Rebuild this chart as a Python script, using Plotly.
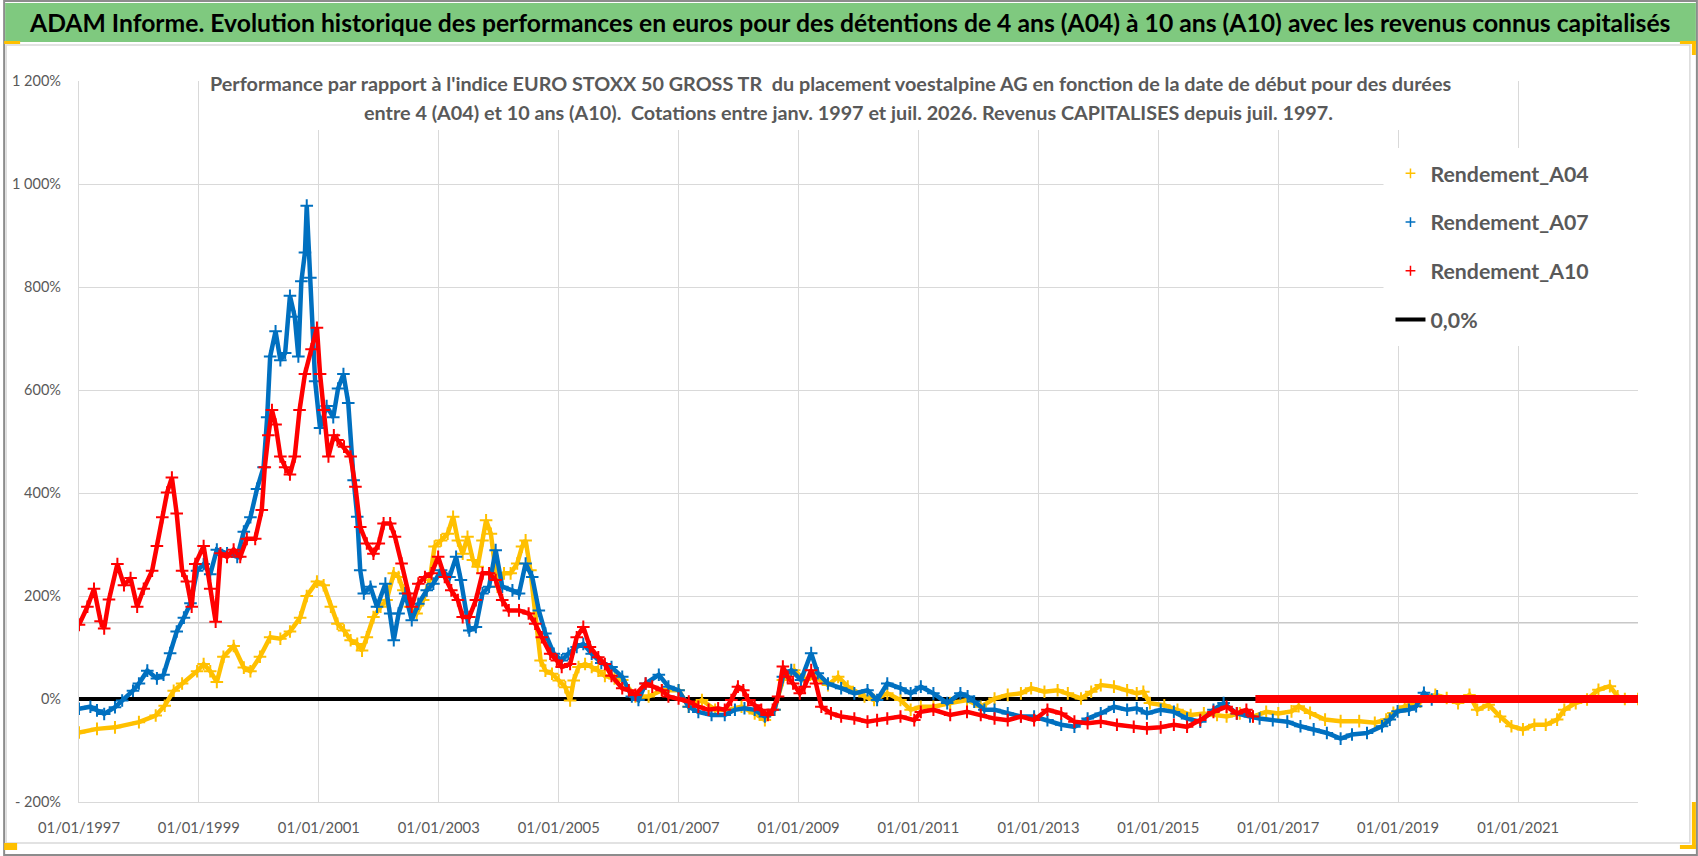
import plotly.graph_objects as go
import pandas as pd

# ---------------- DATA (decimal years, % performance) ----------------
a04_t = [1997.00, 1997.30, 1997.60, 1998.00, 1998.28, 1998.43, 1998.58, 1998.72, 1998.97, 1999.08,
         1999.19, 1999.30, 1999.41, 1999.58, 1999.75, 1999.86, 2000.02, 2000.19, 2000.36, 2000.52,
         2000.69, 2000.80, 2000.97, 2001.08, 2001.20, 2001.31, 2001.42, 2001.53, 2001.64, 2001.72,
         2001.80, 2001.91, 2002.03, 2002.13, 2002.25, 2002.33, 2002.41, 2002.52, 2002.63, 2002.74,
         2002.85, 2002.93, 2003.04, 2003.15, 2003.24, 2003.32, 2003.40, 2003.48, 2003.57, 2003.65,
         2003.73, 2003.79, 2003.87, 2003.98, 2004.09, 2004.20, 2004.31, 2004.39, 2004.45, 2004.53,
         2004.61, 2004.70, 2004.78, 2004.89, 2005.00, 2005.11, 2005.19, 2005.25, 2005.33, 2005.44,
         2005.55, 2005.66, 2005.77, 2005.93, 2006.06, 2006.28, 2006.50, 2006.72, 2007.00, 2007.17,
         2007.39, 2007.61, 2007.83, 2008.05, 2008.27, 2008.44, 2008.60, 2008.74, 2008.93, 2009.10,
         2009.27, 2009.49, 2009.66, 2009.82, 2010.10, 2010.26, 2010.48, 2010.70, 2010.87, 2011.04,
         2011.25, 2011.53, 2011.81, 2012.04, 2012.27, 2012.49, 2012.71, 2012.88, 2013.10, 2013.32,
         2013.49, 2013.71, 2013.88, 2014.04, 2014.26, 2014.48, 2014.64, 2014.75, 2014.86, 2015.10,
         2015.32, 2015.54, 2015.76, 2015.98, 2016.14, 2016.36, 2016.58, 2016.80, 2017.00, 2017.22,
         2017.34, 2017.53, 2017.78, 2018.04, 2018.35, 2018.61, 2018.80, 2018.92, 2019.11, 2019.37,
         2019.62, 2019.81, 2020.00, 2020.19, 2020.32, 2020.51, 2020.70, 2020.89, 2021.08, 2021.27,
         2021.46, 2021.65, 2021.77, 2021.96, 2022.15, 2022.34, 2022.53, 2022.66, 2022.78, 2023.00]
a04_v = [-65, -58, -55, -45, -32, -13, 16, 30, 54, 68,
         54, 33, 82, 103, 61, 54, 82, 120, 117, 131,
         158, 200, 228, 221, 179, 146, 133, 114, 107, 94,
         120, 159, 179, 192, 244, 237, 211, 179, 166, 192,
         231, 296, 308, 321, 354, 308, 282, 315, 270, 257,
         308, 347, 321, 218, 244, 244, 263, 296, 308, 250,
         166, 75, 55, 49, 36, 23, -3, 36, 62, 68,
         62, 55, 45, 40, 37, 5, 5, 17, 17, -15,
         -2, -21, -21, -15, -28, -41, -21, 37, 56, 37,
         43, 27, 43, 24, 5, -2, 11, -2, -21, -15,
         -15, -8, -2, -15, 1, 8, 11, 21, 14, 17,
         11, 1, 14, 27, 24, 17, 11, 14, -8, -12,
         -21, -31, -28, -31, -34, -28, -34, -25, -28, -24,
         -14, -27, -40, -43, -43, -46, -40, -27, -14, -5,
         8, 2, -8, 8, -21, -11, -34, -53, -59, -50,
         -50, -40, -21, -8, -1, 18, 25, 5, 0, 0]

a07_t = [1997.00, 1997.19, 1997.30, 1997.42, 1997.60, 1997.72, 1997.90, 1998.00, 1998.14, 1998.30,
         1998.41, 1998.52, 1998.63, 1998.75, 1998.86, 1998.97, 1999.08, 1999.19, 1999.30, 1999.47,
         1999.64, 1999.75, 1999.86, 1999.97, 2000.08, 2000.14, 2000.19, 2000.28, 2000.36, 2000.44,
         2000.52, 2000.60, 2000.66, 2000.71, 2000.77, 2000.80, 2000.86, 2000.94, 2001.02, 2001.13,
         2001.24, 2001.32, 2001.41, 2001.49, 2001.58, 2001.64, 2001.69, 2001.75, 2001.86, 2001.97,
         2002.11, 2002.19, 2002.25, 2002.33, 2002.44, 2002.55, 2002.66, 2002.80, 2002.91, 2003.04,
         2003.18, 2003.29, 2003.37, 2003.51, 2003.62, 2003.73, 2003.84, 2003.95, 2004.06, 2004.23,
         2004.34, 2004.45, 2004.56, 2004.67, 2004.78, 2004.92, 2005.05, 2005.16, 2005.30, 2005.41,
         2005.55, 2005.71, 2005.88, 2006.06, 2006.22, 2006.33, 2006.45, 2006.67, 2006.83, 2007.00,
         2007.17, 2007.33, 2007.55, 2007.77, 2007.94, 2008.10, 2008.27, 2008.44, 2008.60, 2008.74,
         2008.88, 2009.04, 2009.21, 2009.32, 2009.49, 2009.71, 2009.93, 2010.15, 2010.31, 2010.48,
         2010.70, 2010.87, 2011.04, 2011.25, 2011.48, 2011.70, 2011.82, 2011.93, 2012.10, 2012.27,
         2012.49, 2012.71, 2012.93, 2013.15, 2013.38, 2013.60, 2013.82, 2014.04, 2014.26, 2014.48,
         2014.64, 2014.81, 2015.04, 2015.26, 2015.48, 2015.70, 2015.92, 2016.09, 2016.31, 2016.53,
         2016.69, 2016.91, 2017.15, 2017.37, 2017.59, 2017.81, 2018.04, 2018.23, 2018.48, 2018.73,
         2018.86, 2018.99, 2019.18, 2019.30, 2019.43, 2019.56, 2019.65]
a07_v = [-19, -15, -22, -29, -16, -3, 16, 30, 55, 40,
         47, 89, 131, 158, 186, 249, 262, 242, 290, 283,
         276, 325, 353, 408, 450, 547, 665, 714, 658, 672,
         783, 742, 665, 811, 867, 958, 818, 617, 526, 569,
         547, 603, 631, 575, 425, 354, 250, 205, 218, 179,
         224, 166, 114, 166, 205, 153, 185, 211, 224, 250,
         237, 276, 231, 133, 140, 205, 218, 289, 218, 211,
         205, 263, 237, 172, 127, 88, 75, 88, 101, 107,
         88, 70, 62, 43, 5, -2, 30, 47, 24, 17,
         -15, -25, -31, -31, -21, -18, -21, -34, -21, 43,
         56, 37, 89, 50, 30, 21, 11, 17, -2, 30,
         21, 11, 24, 11, -8, 11, 5, -5, -21, -21,
         -28, -34, -34, -41, -50, -54, -38, -28, -15, -21,
         -18, -28, -21, -25, -38, -44, -21, -8, -28, -34,
         -38, -41, -44, -53, -59, -66, -77, -69, -66, -53,
         -40, -24, -21, -14, 12, -1, 5]

a10_t = [1997.00, 1997.14, 1997.25, 1997.36, 1997.42, 1997.50, 1997.64, 1997.75, 1997.86, 1997.97,
         1998.08, 1998.22, 1998.30, 1998.39, 1998.47, 1998.55, 1998.63, 1998.72, 1998.80, 1998.88,
         1998.94, 1999.08, 1999.19, 1999.28, 1999.36, 1999.47, 1999.58, 1999.69, 1999.80, 1999.94,
         2000.05, 2000.10, 2000.16, 2000.22, 2000.28, 2000.36, 2000.44, 2000.52, 2000.60, 2000.68,
         2000.77, 2000.88, 2000.97, 2001.02, 2001.08, 2001.16, 2001.25, 2001.31, 2001.42, 2001.53,
         2001.61, 2001.69, 2001.80, 2001.91, 2002.00, 2002.08, 2002.19, 2002.27, 2002.38, 2002.49,
         2002.55, 2002.66, 2002.77, 2002.88, 2002.99, 2003.10, 2003.21, 2003.32, 2003.40, 2003.51,
         2003.62, 2003.73, 2003.84, 2003.95, 2004.06, 2004.17, 2004.34, 2004.50, 2004.61, 2004.72,
         2004.86, 2004.97, 2005.05, 2005.19, 2005.30, 2005.41, 2005.52, 2005.66, 2005.77, 2005.88,
         2006.06, 2006.17, 2006.28, 2006.45, 2006.56, 2006.72, 2006.83, 2007.00, 2007.17, 2007.33,
         2007.50, 2007.66, 2007.77, 2007.88, 2007.99, 2008.08, 2008.16, 2008.27, 2008.38, 2008.49,
         2008.57, 2008.66, 2008.74, 2008.82, 2008.91, 2009.02, 2009.10, 2009.21, 2009.29, 2009.38,
         2009.54, 2009.71, 2009.93, 2010.15, 2010.31, 2010.48, 2010.70, 2010.93, 2011.04, 2011.25,
         2011.53, 2011.81, 2012.04, 2012.27, 2012.49, 2012.71, 2012.93, 2013.15, 2013.38, 2013.60,
         2013.82, 2014.04, 2014.31, 2014.59, 2014.81, 2015.04, 2015.26, 2015.48, 2015.70, 2015.92,
         2016.14, 2016.31, 2016.47, 2016.58]
a10_v = [144, 179, 214, 151, 137, 193, 262, 221, 235, 179,
         214, 249, 297, 353, 401, 430, 360, 249, 228, 179,
         262, 297, 214, 150, 283, 276, 290, 276, 311, 311,
         367, 450, 512, 561, 533, 471, 450, 436, 471, 561,
         631, 679, 721, 631, 561, 471, 512, 503, 490, 471,
         412, 334, 302, 282, 302, 341, 341, 315, 263, 205,
         179, 224, 237, 244, 276, 237, 211, 192, 159, 159,
         192, 244, 244, 231, 192, 172, 172, 166, 146, 120,
         88, 75, 62, 68, 120, 140, 101, 81, 68, 45,
         21, 17, 8, 30, 24, 17, 5, 1, -5, -15,
         -21, -18, -21, -2, 24, 17, -2, -12, -21, -31,
         -21, 5, 63, 43, 30, 11, 24, 56, 30, -15,
         -28, -34, -38, -44, -41, -38, -34, -41, -25, -21,
         -31, -25, -31, -38, -41, -34, -41, -21, -28, -44,
         -47, -44, -50, -54, -57, -55, -50, -54, -41, -25,
         -15, -28, -21, -34]

# series with no more history: flat at 0 until the end of the axis
a07_flat_t = [2019.70, 2023.00]
a07_flat_v = [0, 0]
a10_flat_t = [2016.62, 2023.00]
a10_flat_v = [0, 0]

zero_t = [1997.00, 2023.00]
zero_v = [0, 0]
ref_level = 148  # extra horizontal reference line seen on the chart

y_tickvals = [-200, 0, 200, 400, 600, 800, 1000, 1200]
y_ticktext = ["- 200%", "0%", "200%", "400%", "600%", "800%", "1 000%", "1 200%"]
x_tickyears = [1997, 1999, 2001, 2003, 2005, 2007, 2009, 2011, 2013, 2015, 2017, 2019, 2021]

names = ["Rendement_A04", "Rendement_A07", "Rendement_A10", "0,0%"]
colors = ["#FFC000", "#0070C0", "#FF0000", "#000000"]

title_text = ("ADAM Informe. Evolution historique des performances en euros pour des détentions "
              "de 4 ans (A04) à 10 ans (A10) avec les revenus connus capitalisés")
sub1 = ("Performance par rapport à l'indice EURO STOXX 50 GROSS TR  du placement voestalpine AG "
        "en fonction de la date de début pour des durées")
sub2 = ("entre 4 (A04) et 10 ans (A10).  Cotations entre janv. 1997 et juil. 2026. "
        "Revenus CAPITALISES depuis juil. 1997.")


def to_date(y):
    yr = int(y)
    return pd.Timestamp(year=yr, month=1, day=1) + pd.Timedelta(days=(y - yr) * 365.25)


def dates(ts):
    return [to_date(t) for t in ts]


# ---------------- LAYOUT GEOMETRY ----------------
W, H = 1698, 856
ML, MR, MT, MB = 76, 60, 81, 54
PW, PH = W - ML - MR, H - MT - MB


def px_x(px):
    return (px - ML) / PW


def px_y(py):
    return 1 - (py - MT) / PH


FONT = "Lato, Open Sans, sans-serif"
GRAY = "#595959"
GRID = "#D9D9D9"

fig = go.Figure()

# zero line
fig.add_trace(go.Scatter(x=dates(zero_t), y=zero_v, mode="lines",
                         line=dict(color=colors[3], width=4), showlegend=False, hoverinfo="skip"))

series = [(a04_t, a04_v, None, None), (a07_t, a07_v, a07_flat_t, a07_flat_v),
          (a10_t, a10_v, a10_flat_t, a10_flat_v)]
for i, (t, v, ft, fv) in enumerate(series):
    fig.add_trace(go.Scatter(x=dates(t), y=v, mode="lines+markers",
                             line=dict(color=colors[i], width=4.5),
                             marker=dict(symbol="cross-thin", size=9,
                                         line=dict(color=colors[i], width=2)),
                             showlegend=False, name=names[i]))
    if ft is not None:
        fig.add_trace(go.Scatter(x=dates(ft), y=fv, mode="lines",
                                 line=dict(color=colors[i], width=8),
                                 showlegend=False, hoverinfo="skip"))

# legend-only entries
for i in range(3):
    fig.add_trace(go.Scatter(x=[None], y=[None], mode="markers", name=names[i],
                             marker=dict(symbol="cross-thin", size=7,
                                         line=dict(color=colors[i], width=1.5)),
                             legendgroup=names[i], legendrank=i + 1))
fig.add_trace(go.Scatter(x=[None], y=[None], mode="lines", name=names[3],
                         line=dict(color=colors[3], width=4),
                         legendgroup=names[3], legendrank=4))

shapes = []
# outer frame
shapes.append(dict(type="rect", xref="paper", yref="paper", x0=px_x(1), x1=px_x(W - 1),
                   y0=px_y(1), y1=px_y(H - 1), line=dict(color="#8C8C8C", width=2), layer="below"))
# green title band
shapes.append(dict(type="rect", xref="paper", yref="paper", x0=px_x(2), x1=px_x(W - 2),
                   y0=px_y(3), y1=px_y(42), fillcolor="#7FC97F", line=dict(width=0), layer="below"))
# chart area frame
shapes.append(dict(type="rect", xref="paper", yref="paper", x0=px_x(3), x1=px_x(1690),
                   y0=px_y(45), y1=px_y(843), line=dict(color="#D9D9D9", width=1.5), layer="below"))
# extra reference line
shapes.append(dict(type="line", xref="paper", yref="y", x0=0, x1=1, y0=ref_level, y1=ref_level,
                   line=dict(color="#C8C8C8", width=1.5), layer="below"))
# white boxes behind subtitle and legend
shapes.append(dict(type="rect", xref="paper", yref="paper", x0=px_x(205), x1=px_x(1486),
                   y0=px_y(79), y1=px_y(130), fillcolor="white", line=dict(width=0), layer="above"))
shapes.append(dict(type="rect", xref="paper", yref="paper", x0=px_x(1383), x1=px_x(1639),
                   y0=px_y(148), y1=px_y(346), fillcolor="white", line=dict(width=0), layer="above"))
# gold selection handles
gold = "#FFC000"
shapes.append(dict(type="rect", xref="paper", yref="paper", x0=px_x(1), x1=px_x(17),
                   y0=px_y(41), y1=px_y(44), fillcolor=gold, line=dict(width=0)))
shapes.append(dict(type="rect", xref="paper", yref="paper", x0=px_x(1680), x1=px_x(1696),
                   y0=px_y(41), y1=px_y(44), fillcolor=gold, line=dict(width=0)))
shapes.append(dict(type="rect", xref="paper", yref="paper", x0=px_x(1692), x1=px_x(1696),
                   y0=px_y(41), y1=px_y(55), fillcolor=gold, line=dict(width=0)))
shapes.append(dict(type="rect", xref="paper", yref="paper", x0=px_x(1692), x1=px_x(1696),
                   y0=px_y(802), y1=px_y(849), fillcolor=gold, line=dict(width=0)))
shapes.append(dict(type="rect", xref="paper", yref="paper", x0=px_x(1680), x1=px_x(1696),
                   y0=px_y(845), y1=px_y(849), fillcolor=gold, line=dict(width=0)))
shapes.append(dict(type="rect", xref="paper", yref="paper", x0=px_x(1), x1=px_x(14),
                   y0=px_y(843), y1=px_y(850), fillcolor=gold, line=dict(width=0)))

annotations = [
    dict(text="<b>" + title_text + "</b>", xref="paper", yref="paper", x=px_x(24), y=px_y(22),
         xanchor="left", yanchor="middle", showarrow=False,
         font=dict(family=FONT, size=24.7, color="#000000")),
    dict(text="<b>" + sub1 + "</b>", xref="paper", yref="paper", x=px_x(829), y=px_y(83),
         xanchor="center", yanchor="middle", showarrow=False,
         font=dict(family=FONT, size=19.8, color=GRAY)),
    dict(text="<b>" + sub2 + "</b>", xref="paper", yref="paper", x=px_x(847), y=px_y(112),
         xanchor="center", yanchor="middle", showarrow=False,
         font=dict(family=FONT, size=19.8, color=GRAY)),
]

fig.update_layout(
    width=W, height=H,
    margin=dict(l=ML, r=MR, t=MT, b=MB, pad=0),
    paper_bgcolor="white", plot_bgcolor="white",
    shapes=shapes, annotations=annotations,
    showlegend=True,
    legend=dict(x=px_x(1390), y=px_y(153), xanchor="left", yanchor="top",
                bgcolor="rgba(0,0,0,0)",
                font=dict(family=FONT, size=21.3, color=GRAY, weight="bold"),
                tracegroupgap=18, itemwidth=30),
    xaxis=dict(type="date", range=[to_date(1997.0), to_date(2023.0)],
               tickvals=[pd.Timestamp(year=y, month=1, day=1) for y in x_tickyears],
               ticktext=["01/01/%d" % y for y in x_tickyears],
               showgrid=True, gridcolor=GRID, gridwidth=1.3, zeroline=False,
               showline=True, linecolor=GRID, linewidth=1.3, ticks="",
               tickfont=dict(family=FONT, size=14.8, color=GRAY), ticklabelstandoff=12),
    yaxis=dict(range=[-200, 1200], tickvals=y_tickvals, ticktext=y_ticktext,
               showgrid=True, gridcolor=GRID, gridwidth=1.3, zeroline=False,
               showline=True, linecolor=GRID, linewidth=1.3, ticks="",
               tickfont=dict(family=FONT, size=14.5, color=GRAY), ticklabelstandoff=14),
)

fig.write_html("out.html", config={"displayModeBar": False},
               post_script="document.body.style.margin='0';")
